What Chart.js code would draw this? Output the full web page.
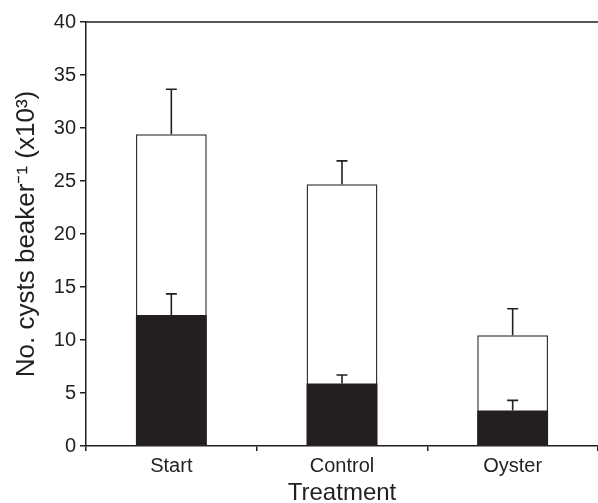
<!DOCTYPE html>
<html>
<head>
<meta charset="utf-8">
<script src="https://cdn.jsdelivr.net/npm/chart.js@4/dist/chart.umd.min.js"></script>
<style>
  html, body { margin: 0; padding: 0; background: #fff; }
  #wrap { width: 598px; height: 503px; }
</style>
</head>
<body>
<div id="wrap"><canvas id="chart"></canvas></div>
<script>
const categories = ['Start', 'Control', 'Oyster']
const totalCysts = [29.4, 24.7, 10.45]
const totalErr = [4.25, 2.2, 2.5]
const darkCysts = [12.35, 5.9, 3.35]
const darkErr = [2.0, 0.8, 0.95]
const yTicks = [0, 5, 10, 15, 20, 25, 30, 35, 40]

const ink = '#231f20'
const fontFamily = '"Liberation Sans", Arial, Helvetica, sans-serif'

// upward-only error bars, drawn from each bar top
const errorBars = {
  id: 'errorBars',
  afterDatasetsDraw(chart) {
    const { ctx } = chart
    const yScale = chart.scales.y
    chart.data.datasets.forEach((ds, i) => {
      const meta = chart.getDatasetMeta(i)
      meta.data.forEach((bar, j) => {
        const top = yScale.getPixelForValue(ds.data[j] + ds.errors[j])
        ctx.save()
        ctx.strokeStyle = ink
        ctx.lineWidth = 1.6
        ctx.beginPath()
        ctx.moveTo(bar.x, bar.y)
        ctx.lineTo(bar.x, top)
        ctx.moveTo(bar.x - 5.5, top)
        ctx.lineTo(bar.x + 5.5, top)
        ctx.stroke()
        ctx.restore()
      })
    })
  }
}

// top frame line across the plot
const topLine = {
  id: 'topLine',
  afterDraw(chart) {
    const { ctx, chartArea } = chart
    ctx.save()
    ctx.strokeStyle = ink
    ctx.lineWidth = 1.5
    ctx.beginPath()
    ctx.moveTo(chartArea.left, chartArea.top)
    ctx.lineTo(chart.width, chartArea.top)
    ctx.stroke()
    ctx.restore()
  }
}

const ctx = document.getElementById('chart')

const chart = new Chart(ctx, {
  type: 'bar',
  data: {
    labels: categories,
    datasets: [
      {
        label: 'Dark cysts',
        data: darkCysts,
        errors: darkErr,
        backgroundColor: ink,
        borderColor: ink,
        borderWidth: 0,
        order: 1
      },
      {
        label: 'Total cysts',
        data: totalCysts,
        errors: totalErr,
        backgroundColor: '#ffffff',
        borderColor: '#333333',
        borderWidth: 1.5,
        order: 2
      }
    ]
  },
  options: {
    responsive: true,
    maintainAspectRatio: false,
    animation: false,
    layout: { padding: { top: 22, right: 0, left: 0, bottom: 0 } },
    categoryPercentage: 1,
    barPercentage: 0.415,
    plugins: {
      legend: { display: false },
      tooltip: { enabled: false }
    },
    scales: {
      x: {
        stacked: true,
        grid: {
          offset: true,
          drawOnChartArea: false,
          drawTicks: true,
          tickLength: 5,
          color: ink,
          lineWidth: 1.5
        },
        border: { display: true, color: ink, width: 1.5 },
        ticks: {
          color: ink,
          padding: 3,
          font: { family: fontFamily, size: 20 }
        },
        title: {
          display: true,
          text: 'Treatment',
          color: ink,
          padding: { top: 0, bottom: -2 },
          font: { family: fontFamily, size: 24, lineHeight: 1 }
        },
        afterFit: (scale) => { scale.height = 57 }
      },
      y: {
        stacked: false,
        min: 0,
        max: 40,
        afterBuildTicks: (scale) => { scale.ticks = yTicks.map(v => ({ value: v })) },
        grid: {
          drawOnChartArea: false,
          drawTicks: true,
          tickLength: 6,
          color: ink,
          lineWidth: 1.5
        },
        border: { display: true, color: ink, width: 1.5 },
        ticks: {
          color: ink,
          padding: 4,
          font: { family: fontFamily, size: 20 }
        },
        title: {
          display: true,
          text: 'No. cysts beaker⁻¹ (x10³)',
          color: ink,
          padding: { top: 14, bottom: 0 },
          font: { family: fontFamily, size: 26, lineHeight: 1 }
        },
        afterFit: (scale) => { scale.width = 86 }
      }
    }
  },
  plugins: [errorBars, topLine]
});
</script>
</body>
</html>
